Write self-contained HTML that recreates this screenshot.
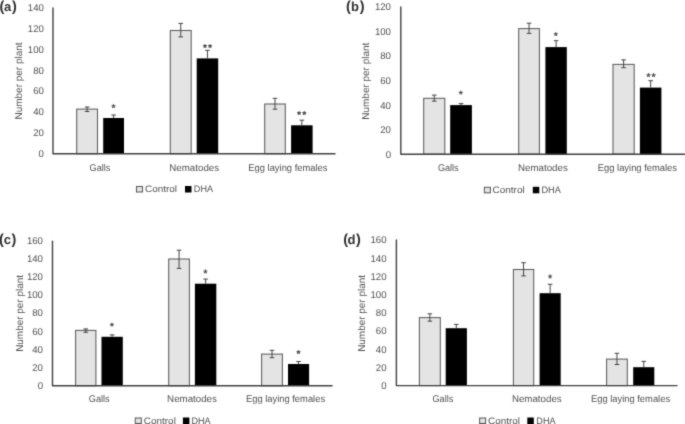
<!DOCTYPE html>
<html><head><meta charset="utf-8"><style>
html,body{margin:0;padding:0;background:#fff;}
body{width:685px;height:424px;overflow:hidden;}
svg{display:block;}
</style></head><body>
<svg width="685" height="424" viewBox="0 0 685 424" font-family='"Liberation Sans", sans-serif' font-size="9.4" fill="#505050" text-rendering="geometricPrecision">
<defs>
<filter id="gb" filterUnits="userSpaceOnUse" x="0" y="0" width="685" height="424" color-interpolation-filters="sRGB"><feConvolveMatrix order="3" kernelMatrix="1 5 1 5 25 5 1 5 1" divisor="49" edgeMode="duplicate" preserveAlpha="true"/></filter></defs>
<g filter="url(#gb)">
<rect width="685" height="424" fill="#fff"/>
<text y="11.2" font-weight="bold" fill="#303030"><tspan x="-0.40" font-size="14.5">(</tspan><tspan x="3.90" font-size="13">a</tspan><tspan x="11.90" font-size="14.5">)</tspan></text>
<text x="43.9" y="157.10" text-anchor="end" font-size="9.8" textLength="5.37" lengthAdjust="spacingAndGlyphs">0</text>
<text x="43.9" y="136.22" text-anchor="end" font-size="9.8" textLength="10.75" lengthAdjust="spacingAndGlyphs">20</text>
<text x="43.9" y="115.34" text-anchor="end" font-size="9.8" textLength="10.75" lengthAdjust="spacingAndGlyphs">40</text>
<text x="43.9" y="94.46" text-anchor="end" font-size="9.8" textLength="10.75" lengthAdjust="spacingAndGlyphs">60</text>
<text x="43.9" y="73.59" text-anchor="end" font-size="9.8" textLength="10.75" lengthAdjust="spacingAndGlyphs">80</text>
<text x="43.9" y="52.71" text-anchor="end" font-size="9.8" textLength="16.12" lengthAdjust="spacingAndGlyphs">100</text>
<text x="43.9" y="31.83" text-anchor="end" font-size="9.8" textLength="16.12" lengthAdjust="spacingAndGlyphs">120</text>
<text x="43.9" y="10.95" text-anchor="end" font-size="9.8" textLength="16.12" lengthAdjust="spacingAndGlyphs">140</text>
<text transform="translate(22.4,81.0) rotate(-90)" x="0" y="0" text-anchor="middle" font-size="10" textLength="76.95" lengthAdjust="spacingAndGlyphs">Number per plant</text>
<rect x="76.70" y="109.10" width="20.80" height="44.60" fill="#e4e4e4" stroke="#5c5c5c" stroke-width="1.05"/>
<rect x="103.20" y="118.00" width="20.80" height="35.70" fill="#000"/>
<path d="M87.10 107.00V111.50M84.80 107.00H89.40M84.80 111.50H89.40" stroke="#444" stroke-width="1" fill="none"/>
<path d="M113.60 115.00V118.00M111.30 115.00H115.90" stroke="#444" stroke-width="1" fill="none"/>
<path d="M113.50 106.20L113.50 104.60M113.50 106.20L115.02 105.71M113.50 106.20L114.44 107.49M113.50 106.20L112.56 107.49M113.50 106.20L111.98 105.71" stroke="#505050" stroke-width="1.15" stroke-linecap="round"/>
<rect x="170.30" y="30.50" width="20.90" height="123.20" fill="#e4e4e4" stroke="#5c5c5c" stroke-width="1.05"/>
<rect x="196.70" y="58.40" width="21.50" height="95.30" fill="#000"/>
<path d="M180.75 23.40V36.90M178.45 23.40H183.05M178.45 36.90H183.05" stroke="#444" stroke-width="1" fill="none"/>
<path d="M207.45 50.30V58.40M205.15 50.30H209.75" stroke="#444" stroke-width="1" fill="none"/>
<path d="M204.96 46.10L204.96 44.50M204.96 46.10L206.48 45.61M204.96 46.10L205.90 47.39M204.96 46.10L204.02 47.39M204.96 46.10L203.44 45.61" stroke="#505050" stroke-width="1.15" stroke-linecap="round"/>
<path d="M210.06 46.10L210.06 44.50M210.06 46.10L211.58 45.61M210.06 46.10L211.00 47.39M210.06 46.10L209.12 47.39M210.06 46.10L208.54 45.61" stroke="#505050" stroke-width="1.15" stroke-linecap="round"/>
<rect x="264.70" y="104.00" width="20.60" height="49.70" fill="#e4e4e4" stroke="#5c5c5c" stroke-width="1.05"/>
<rect x="291.10" y="125.30" width="21.50" height="28.40" fill="#000"/>
<path d="M275.00 98.30V109.20M272.70 98.30H277.30M272.70 109.20H277.30" stroke="#444" stroke-width="1" fill="none"/>
<path d="M301.85 120.20V125.30M299.55 120.20H304.15" stroke="#444" stroke-width="1" fill="none"/>
<path d="M299.10 113.10L299.10 111.50M299.10 113.10L300.62 112.61M299.10 113.10L300.04 114.39M299.10 113.10L298.16 114.39M299.10 113.10L297.58 112.61" stroke="#505050" stroke-width="1.15" stroke-linecap="round"/>
<path d="M304.30 113.10L304.30 111.50M304.30 113.10L305.82 112.61M304.30 113.10L305.24 114.39M304.30 113.10L303.36 114.39M304.30 113.10L302.78 112.61" stroke="#505050" stroke-width="1.15" stroke-linecap="round"/>
<path d="M53.0 7.9V153.7H335.0" stroke="#404040" stroke-width="1.4" fill="none" stroke-linejoin="round" stroke-linecap="round"/>
<text x="100.0" y="170.80" text-anchor="middle" font-size="9.8" textLength="20.77" lengthAdjust="spacingAndGlyphs">Galls</text>
<text x="194.2" y="170.80" text-anchor="middle" font-size="9.8" textLength="49.80" lengthAdjust="spacingAndGlyphs">Nematodes</text>
<text x="287.9" y="170.80" text-anchor="middle" font-size="9.8" textLength="79.15" lengthAdjust="spacingAndGlyphs">Egg laying females</text>
<rect x="136.5" y="186.5" width="6" height="5.5" fill="#e4e4e4" stroke="#5c5c5c" stroke-width="1.05"/>
<text x="145.0" y="192.40" textLength="32.06" lengthAdjust="spacingAndGlyphs">Control</text>
<rect x="185.0" y="186.0" width="6.5" height="6.5" fill="#000"/>
<text x="193.8" y="192.40"  textLength="19.26" lengthAdjust="spacingAndGlyphs">DHA</text>
<text y="11.0" font-weight="bold" fill="#303030"><tspan x="345.90" font-size="14.5">(</tspan><tspan x="351.00" font-size="13">b</tspan><tspan x="359.80" font-size="14.5">)</tspan></text>
<text x="391.0" y="157.70" text-anchor="end" font-size="9.8" textLength="5.37" lengthAdjust="spacingAndGlyphs">0</text>
<text x="391.0" y="133.11" text-anchor="end" font-size="9.8" textLength="10.75" lengthAdjust="spacingAndGlyphs">20</text>
<text x="391.0" y="108.52" text-anchor="end" font-size="9.8" textLength="10.75" lengthAdjust="spacingAndGlyphs">40</text>
<text x="391.0" y="83.92" text-anchor="end" font-size="9.8" textLength="10.75" lengthAdjust="spacingAndGlyphs">60</text>
<text x="391.0" y="59.33" text-anchor="end" font-size="9.8" textLength="10.75" lengthAdjust="spacingAndGlyphs">80</text>
<text x="391.0" y="34.74" text-anchor="end" font-size="9.8" textLength="16.12" lengthAdjust="spacingAndGlyphs">100</text>
<text x="391.0" y="10.15" text-anchor="end" font-size="9.8" textLength="16.12" lengthAdjust="spacingAndGlyphs">120</text>
<text transform="translate(368.7,81.2) rotate(-90)" x="0" y="0" text-anchor="middle" font-size="10" textLength="76.95" lengthAdjust="spacingAndGlyphs">Number per plant</text>
<rect x="423.70" y="98.30" width="21.10" height="55.90" fill="#e4e4e4" stroke="#5c5c5c" stroke-width="1.05"/>
<rect x="450.20" y="105.10" width="21.70" height="49.10" fill="#000"/>
<path d="M434.25 95.10V101.10M431.95 95.10H436.55M431.95 101.10H436.55" stroke="#444" stroke-width="1" fill="none"/>
<path d="M461.05 103.60V105.10M458.75 103.60H463.35" stroke="#444" stroke-width="1" fill="none"/>
<path d="M460.80 92.70L460.80 91.10M460.80 92.70L462.32 92.21M460.80 92.70L461.74 93.99M460.80 92.70L459.86 93.99M460.80 92.70L459.28 92.21" stroke="#505050" stroke-width="1.15" stroke-linecap="round"/>
<rect x="518.70" y="28.60" width="20.70" height="125.60" fill="#e4e4e4" stroke="#5c5c5c" stroke-width="1.05"/>
<rect x="545.40" y="47.10" width="21.40" height="107.10" fill="#000"/>
<path d="M529.05 23.20V33.40M526.75 23.20H531.35M526.75 33.40H531.35" stroke="#444" stroke-width="1" fill="none"/>
<path d="M556.10 40.70V47.10M553.80 40.70H558.40" stroke="#444" stroke-width="1" fill="none"/>
<path d="M555.80 34.20L555.80 32.60M555.80 34.20L557.32 33.71M555.80 34.20L556.74 35.49M555.80 34.20L554.86 35.49M555.80 34.20L554.28 33.71" stroke="#505050" stroke-width="1.15" stroke-linecap="round"/>
<rect x="613.00" y="64.40" width="21.20" height="89.80" fill="#e4e4e4" stroke="#5c5c5c" stroke-width="1.05"/>
<rect x="639.90" y="87.60" width="21.50" height="66.60" fill="#000"/>
<path d="M623.60 59.90V67.70M621.30 59.90H625.90M621.30 67.70H625.90" stroke="#444" stroke-width="1" fill="none"/>
<path d="M650.65 80.70V87.60M648.35 80.70H652.95" stroke="#444" stroke-width="1" fill="none"/>
<path d="M648.50 75.20L648.50 73.60M648.50 75.20L650.02 74.71M648.50 75.20L649.44 76.49M648.50 75.20L647.56 76.49M648.50 75.20L646.98 74.71" stroke="#505050" stroke-width="1.15" stroke-linecap="round"/>
<path d="M653.60 75.20L653.60 73.60M653.60 75.20L655.12 74.71M653.60 75.20L654.54 76.49M653.60 75.20L652.66 76.49M653.60 75.20L652.08 74.71" stroke="#505050" stroke-width="1.15" stroke-linecap="round"/>
<path d="M400.8 6.9V154.2H684.5" stroke="#404040" stroke-width="1.4" fill="none" stroke-linejoin="round" stroke-linecap="round"/>
<text x="448.3" y="171.10" text-anchor="middle" font-size="9.8" textLength="20.77" lengthAdjust="spacingAndGlyphs">Galls</text>
<text x="542.9" y="171.10" text-anchor="middle" font-size="9.8" textLength="49.80" lengthAdjust="spacingAndGlyphs">Nematodes</text>
<text x="637.4" y="171.10" text-anchor="middle" font-size="9.8" textLength="79.15" lengthAdjust="spacingAndGlyphs">Egg laying females</text>
<rect x="484.4" y="187.3" width="6" height="5.5" fill="#e4e4e4" stroke="#5c5c5c" stroke-width="1.05"/>
<text x="492.6" y="193.30" textLength="32.06" lengthAdjust="spacingAndGlyphs">Control</text>
<rect x="532.8" y="186.8" width="6.5" height="6.5" fill="#000"/>
<text x="541.5" y="193.30"  textLength="19.26" lengthAdjust="spacingAndGlyphs">DHA</text>
<text y="244.4" font-weight="bold" fill="#303030"><tspan x="-1.00" font-size="14.5">(</tspan><tspan x="3.80" font-size="13">c</tspan><tspan x="11.50" font-size="14.5">)</tspan></text>
<text x="43.0" y="388.90" text-anchor="end" font-size="9.8" textLength="5.37" lengthAdjust="spacingAndGlyphs">0</text>
<text x="43.0" y="370.78" text-anchor="end" font-size="9.8" textLength="10.75" lengthAdjust="spacingAndGlyphs">20</text>
<text x="43.0" y="352.65" text-anchor="end" font-size="9.8" textLength="10.75" lengthAdjust="spacingAndGlyphs">40</text>
<text x="43.0" y="334.53" text-anchor="end" font-size="9.8" textLength="10.75" lengthAdjust="spacingAndGlyphs">60</text>
<text x="43.0" y="316.40" text-anchor="end" font-size="9.8" textLength="10.75" lengthAdjust="spacingAndGlyphs">80</text>
<text x="43.0" y="298.28" text-anchor="end" font-size="9.8" textLength="16.12" lengthAdjust="spacingAndGlyphs">100</text>
<text x="43.0" y="280.15" text-anchor="end" font-size="9.8" textLength="16.12" lengthAdjust="spacingAndGlyphs">120</text>
<text x="43.0" y="262.03" text-anchor="end" font-size="9.8" textLength="16.12" lengthAdjust="spacingAndGlyphs">140</text>
<text x="43.0" y="243.90" text-anchor="end" font-size="9.8" textLength="16.12" lengthAdjust="spacingAndGlyphs">160</text>
<text transform="translate(22.5,313.4) rotate(-90)" x="0" y="0" text-anchor="middle" font-size="10" textLength="76.95" lengthAdjust="spacingAndGlyphs">Number per plant</text>
<rect x="75.60" y="330.40" width="20.30" height="55.30" fill="#e4e4e4" stroke="#5c5c5c" stroke-width="1.05"/>
<rect x="101.50" y="336.80" width="21.30" height="48.90" fill="#000"/>
<path d="M85.75 328.90V332.30M83.45 328.90H88.05M83.45 332.30H88.05" stroke="#444" stroke-width="1" fill="none"/>
<path d="M112.15 334.90V336.80M109.85 334.90H114.45" stroke="#444" stroke-width="1" fill="none"/>
<path d="M111.90 324.70L111.90 323.10M111.90 324.70L113.42 324.21M111.90 324.70L112.84 325.99M111.90 324.70L110.96 325.99M111.90 324.70L110.38 324.21" stroke="#505050" stroke-width="1.15" stroke-linecap="round"/>
<rect x="168.70" y="259.00" width="20.70" height="126.70" fill="#e4e4e4" stroke="#5c5c5c" stroke-width="1.05"/>
<rect x="194.90" y="283.70" width="21.40" height="102.00" fill="#000"/>
<path d="M179.05 250.20V268.40M176.75 250.20H181.35M176.75 268.40H181.35" stroke="#444" stroke-width="1" fill="none"/>
<path d="M205.60 279.10V283.70M203.30 279.10H207.90" stroke="#444" stroke-width="1" fill="none"/>
<path d="M205.40 271.50L205.40 269.90M205.40 271.50L206.92 271.01M205.40 271.50L206.34 272.79M205.40 271.50L204.46 272.79M205.40 271.50L203.88 271.01" stroke="#505050" stroke-width="1.15" stroke-linecap="round"/>
<rect x="261.60" y="354.10" width="20.80" height="31.60" fill="#e4e4e4" stroke="#5c5c5c" stroke-width="1.05"/>
<rect x="288.00" y="364.00" width="21.10" height="21.70" fill="#000"/>
<path d="M272.00 350.30V357.70M269.70 350.30H274.30M269.70 357.70H274.30" stroke="#444" stroke-width="1" fill="none"/>
<path d="M298.55 361.50V364.00M296.25 361.50H300.85" stroke="#444" stroke-width="1" fill="none"/>
<path d="M298.50 352.10L298.50 350.50M298.50 352.10L300.02 351.61M298.50 352.10L299.44 353.39M298.50 352.10L297.56 353.39M298.50 352.10L296.98 351.61" stroke="#505050" stroke-width="1.15" stroke-linecap="round"/>
<path d="M52.5 241.1V385.7H332.1" stroke="#404040" stroke-width="1.4" fill="none" stroke-linejoin="round" stroke-linecap="round"/>
<text x="99.2" y="401.90" text-anchor="middle" font-size="9.8" textLength="20.77" lengthAdjust="spacingAndGlyphs">Galls</text>
<text x="192.0" y="401.90" text-anchor="middle" font-size="9.8" textLength="49.80" lengthAdjust="spacingAndGlyphs">Nematodes</text>
<text x="285.5" y="401.90" text-anchor="middle" font-size="9.8" textLength="79.15" lengthAdjust="spacingAndGlyphs">Egg laying females</text>
<rect x="135.3" y="418.0" width="6" height="5.5" fill="#e4e4e4" stroke="#5c5c5c" stroke-width="1.05"/>
<text x="143.8" y="424.00" textLength="32.06" lengthAdjust="spacingAndGlyphs">Control</text>
<rect x="182.9" y="417.5" width="6.5" height="6.5" fill="#000"/>
<text x="191.4" y="424.00"  textLength="19.26" lengthAdjust="spacingAndGlyphs">DHA</text>
<text y="243.8" font-weight="bold" fill="#303030"><tspan x="343.20" font-size="14.5">(</tspan><tspan x="347.40" font-size="13">d</tspan><tspan x="356.00" font-size="14.5">)</tspan></text>
<text x="386.59999999999997" y="389.05" text-anchor="end" font-size="9.8" textLength="5.37" lengthAdjust="spacingAndGlyphs">0</text>
<text x="386.59999999999997" y="370.85" text-anchor="end" font-size="9.8" textLength="10.75" lengthAdjust="spacingAndGlyphs">20</text>
<text x="386.59999999999997" y="352.65" text-anchor="end" font-size="9.8" textLength="10.75" lengthAdjust="spacingAndGlyphs">40</text>
<text x="386.59999999999997" y="334.45" text-anchor="end" font-size="9.8" textLength="10.75" lengthAdjust="spacingAndGlyphs">60</text>
<text x="386.59999999999997" y="316.25" text-anchor="end" font-size="9.8" textLength="10.75" lengthAdjust="spacingAndGlyphs">80</text>
<text x="386.59999999999997" y="298.05" text-anchor="end" font-size="9.8" textLength="16.12" lengthAdjust="spacingAndGlyphs">100</text>
<text x="386.59999999999997" y="279.85" text-anchor="end" font-size="9.8" textLength="16.12" lengthAdjust="spacingAndGlyphs">120</text>
<text x="386.59999999999997" y="261.65" text-anchor="end" font-size="9.8" textLength="16.12" lengthAdjust="spacingAndGlyphs">140</text>
<text x="386.59999999999997" y="243.45" text-anchor="end" font-size="9.8" textLength="16.12" lengthAdjust="spacingAndGlyphs">160</text>
<text transform="translate(365.0,313.4) rotate(-90)" x="0" y="0" text-anchor="middle" font-size="10" textLength="76.95" lengthAdjust="spacingAndGlyphs">Number per plant</text>
<rect x="419.40" y="317.60" width="20.90" height="68.00" fill="#e4e4e4" stroke="#5c5c5c" stroke-width="1.05"/>
<rect x="445.70" y="328.20" width="21.20" height="57.40" fill="#000"/>
<path d="M429.85 313.80V321.20M427.55 313.80H432.15M427.55 321.20H432.15" stroke="#444" stroke-width="1" fill="none"/>
<path d="M456.30 324.40V328.20M454.00 324.40H458.60" stroke="#444" stroke-width="1" fill="none"/>
<rect x="513.40" y="269.50" width="20.30" height="116.10" fill="#e4e4e4" stroke="#5c5c5c" stroke-width="1.05"/>
<rect x="539.60" y="293.20" width="21.10" height="92.40" fill="#000"/>
<path d="M523.55 262.70V275.90M521.25 262.70H525.85M521.25 275.90H525.85" stroke="#444" stroke-width="1" fill="none"/>
<path d="M550.15 284.30V293.20M547.85 284.30H552.45" stroke="#444" stroke-width="1" fill="none"/>
<path d="M550.10 276.50L550.10 274.90M550.10 276.50L551.62 276.01M550.10 276.50L551.04 277.79M550.10 276.50L549.16 277.79M550.10 276.50L548.58 276.01" stroke="#505050" stroke-width="1.15" stroke-linecap="round"/>
<rect x="606.60" y="359.10" width="20.70" height="26.50" fill="#e4e4e4" stroke="#5c5c5c" stroke-width="1.05"/>
<rect x="633.20" y="367.20" width="21.10" height="18.40" fill="#000"/>
<path d="M616.95 353.30V364.50M614.65 353.30H619.25M614.65 364.50H619.25" stroke="#444" stroke-width="1" fill="none"/>
<path d="M643.75 361.40V367.20M641.45 361.40H646.05" stroke="#444" stroke-width="1" fill="none"/>
<path d="M396.4 239.9V385.6H677.0" stroke="#404040" stroke-width="1.4" fill="none" stroke-linejoin="round" stroke-linecap="round"/>
<text x="442.9" y="402.40" text-anchor="middle" font-size="9.8" textLength="20.77" lengthAdjust="spacingAndGlyphs">Galls</text>
<text x="536.8" y="402.40" text-anchor="middle" font-size="9.8" textLength="49.80" lengthAdjust="spacingAndGlyphs">Nematodes</text>
<text x="630.5" y="402.40" text-anchor="middle" font-size="9.8" textLength="79.15" lengthAdjust="spacingAndGlyphs">Egg laying females</text>
<rect x="479.6" y="418.0" width="6" height="5.5" fill="#e4e4e4" stroke="#5c5c5c" stroke-width="1.05"/>
<text x="488.0" y="424.00" textLength="32.06" lengthAdjust="spacingAndGlyphs">Control</text>
<rect x="527.3" y="417.5" width="6.5" height="6.5" fill="#000"/>
<text x="536.3" y="424.00"  textLength="19.26" lengthAdjust="spacingAndGlyphs">DHA</text>
</g>
</svg>
</body></html>
